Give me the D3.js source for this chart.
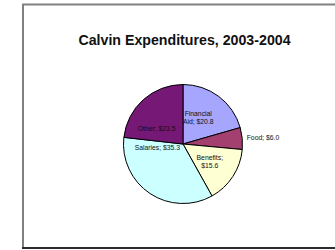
<!DOCTYPE html>
<html>
<head>
<meta charset="utf-8">
<script src="https://cdn.jsdelivr.net/npm/d3@7"></script>
<style>
  html, body { margin: 0; padding: 0; background: #fff; overflow: hidden; }
  svg { display: block; font-family: Arial, "Liberation Sans", sans-serif; }
</style>
</head>
<body>
<div id="viz"></div>
<script>
const categories = ['Financial Aid', 'Food', 'Benefits', 'Salaries', 'Other'];
const values = [20.8, 6.0, 15.6, 35.3, 23.5];
const labelLines = [
    ['Financial', 'Aid; $20.8'],
    ['Food; $6.0'],
    ['Benefits;', '$15.6'],
    ['Salaries; $35.3'],
    ['Other; $23.5'],
];
const colors = ['#a6a6ff', '#a3406f', '#ffffd4', '#ccffff', '#761876'];
const title = 'Calvin Expenditures, 2003-2004';

const width = 335;
const height = 250;

const svg = d3
    .select('#viz')
    .append('svg')
    .attr('width', width)
    .attr('height', height);

// slide frame (right side runs off the picture)
svg.append('rect')
    .attr('x', 23)
    .attr('y', 4.5)
    .attr('width', 400)
    .attr('height', 243.5)
    .attr('fill', 'none')
    .attr('stroke', '#808080')
    .attr('stroke-width', 2);
svg.append('line')
    .attr('x1', 22).attr('x2', 400)
    .attr('y1', 248).attr('y2', 248)
    .attr('stroke', '#111')
    .attr('stroke-width', 1.5);

svg.append('text')
    .attr('x', 184.5)
    .attr('y', 45)
    .attr('text-anchor', 'middle')
    .attr('font-size', 14.2)
    .attr('font-weight', 'bold')
    .attr('fill', '#111')
    .text(title);

const cx = 183;
const cy = 144;
const radius = 59.5;

const data = categories.map((c, i) => ({ name: c, value: values[i], lines: labelLines[i] }));

const pie = d3.pie().value((d) => d.value).sort(null);
const arcs = pie(data);
const arc = d3.arc().innerRadius(0).outerRadius(radius);
const labelArc = d3.arc().innerRadius(32).outerRadius(32);
const outerArc = d3.arc().innerRadius(66).outerRadius(66);

const g = svg.append('g').attr('transform', `translate(${cx},${cy})`);

g.selectAll('path')
    .data(arcs)
    .join('path')
    .attr('d', arc)
    .attr('fill', (d, i) => colors[i])
    .attr('stroke', '#000')
    .attr('stroke-width', 1);

// small nudges so labels sit where the original put them
const nudge = { Salaries: [-8, -23], Other: [-5, 8], 'Financial Aid': [-4, -1] };

g.selectAll('text.lbl')
    .data(arcs)
    .join('text')
    .attr('class', 'lbl')
    .each(function (d) {
        const outside = d.data.name === 'Food';
        const [x0, y0] = outside ? outerArc.centroid(d) : labelArc.centroid(d);
        const [nx, ny] = nudge[d.data.name] || [0, 0];
        const x = x0 + nx;
        const y = y0 + ny;
        const n = d.data.lines.length;
        d3.select(this)
            .attr('text-anchor', outside ? 'start' : 'middle')
            .attr('font-size', 6.8)
            .attr('fill', '#111')
            .selectAll('tspan')
            .data(d.data.lines)
            .join('tspan')
            .attr('x', outside ? x - 2 : x)
            .attr('y', (t, j) => y + 2.4 + (j - (n - 1) / 2) * 8)
            .text((t) => t);
    });
</script>
</body>
</html>
